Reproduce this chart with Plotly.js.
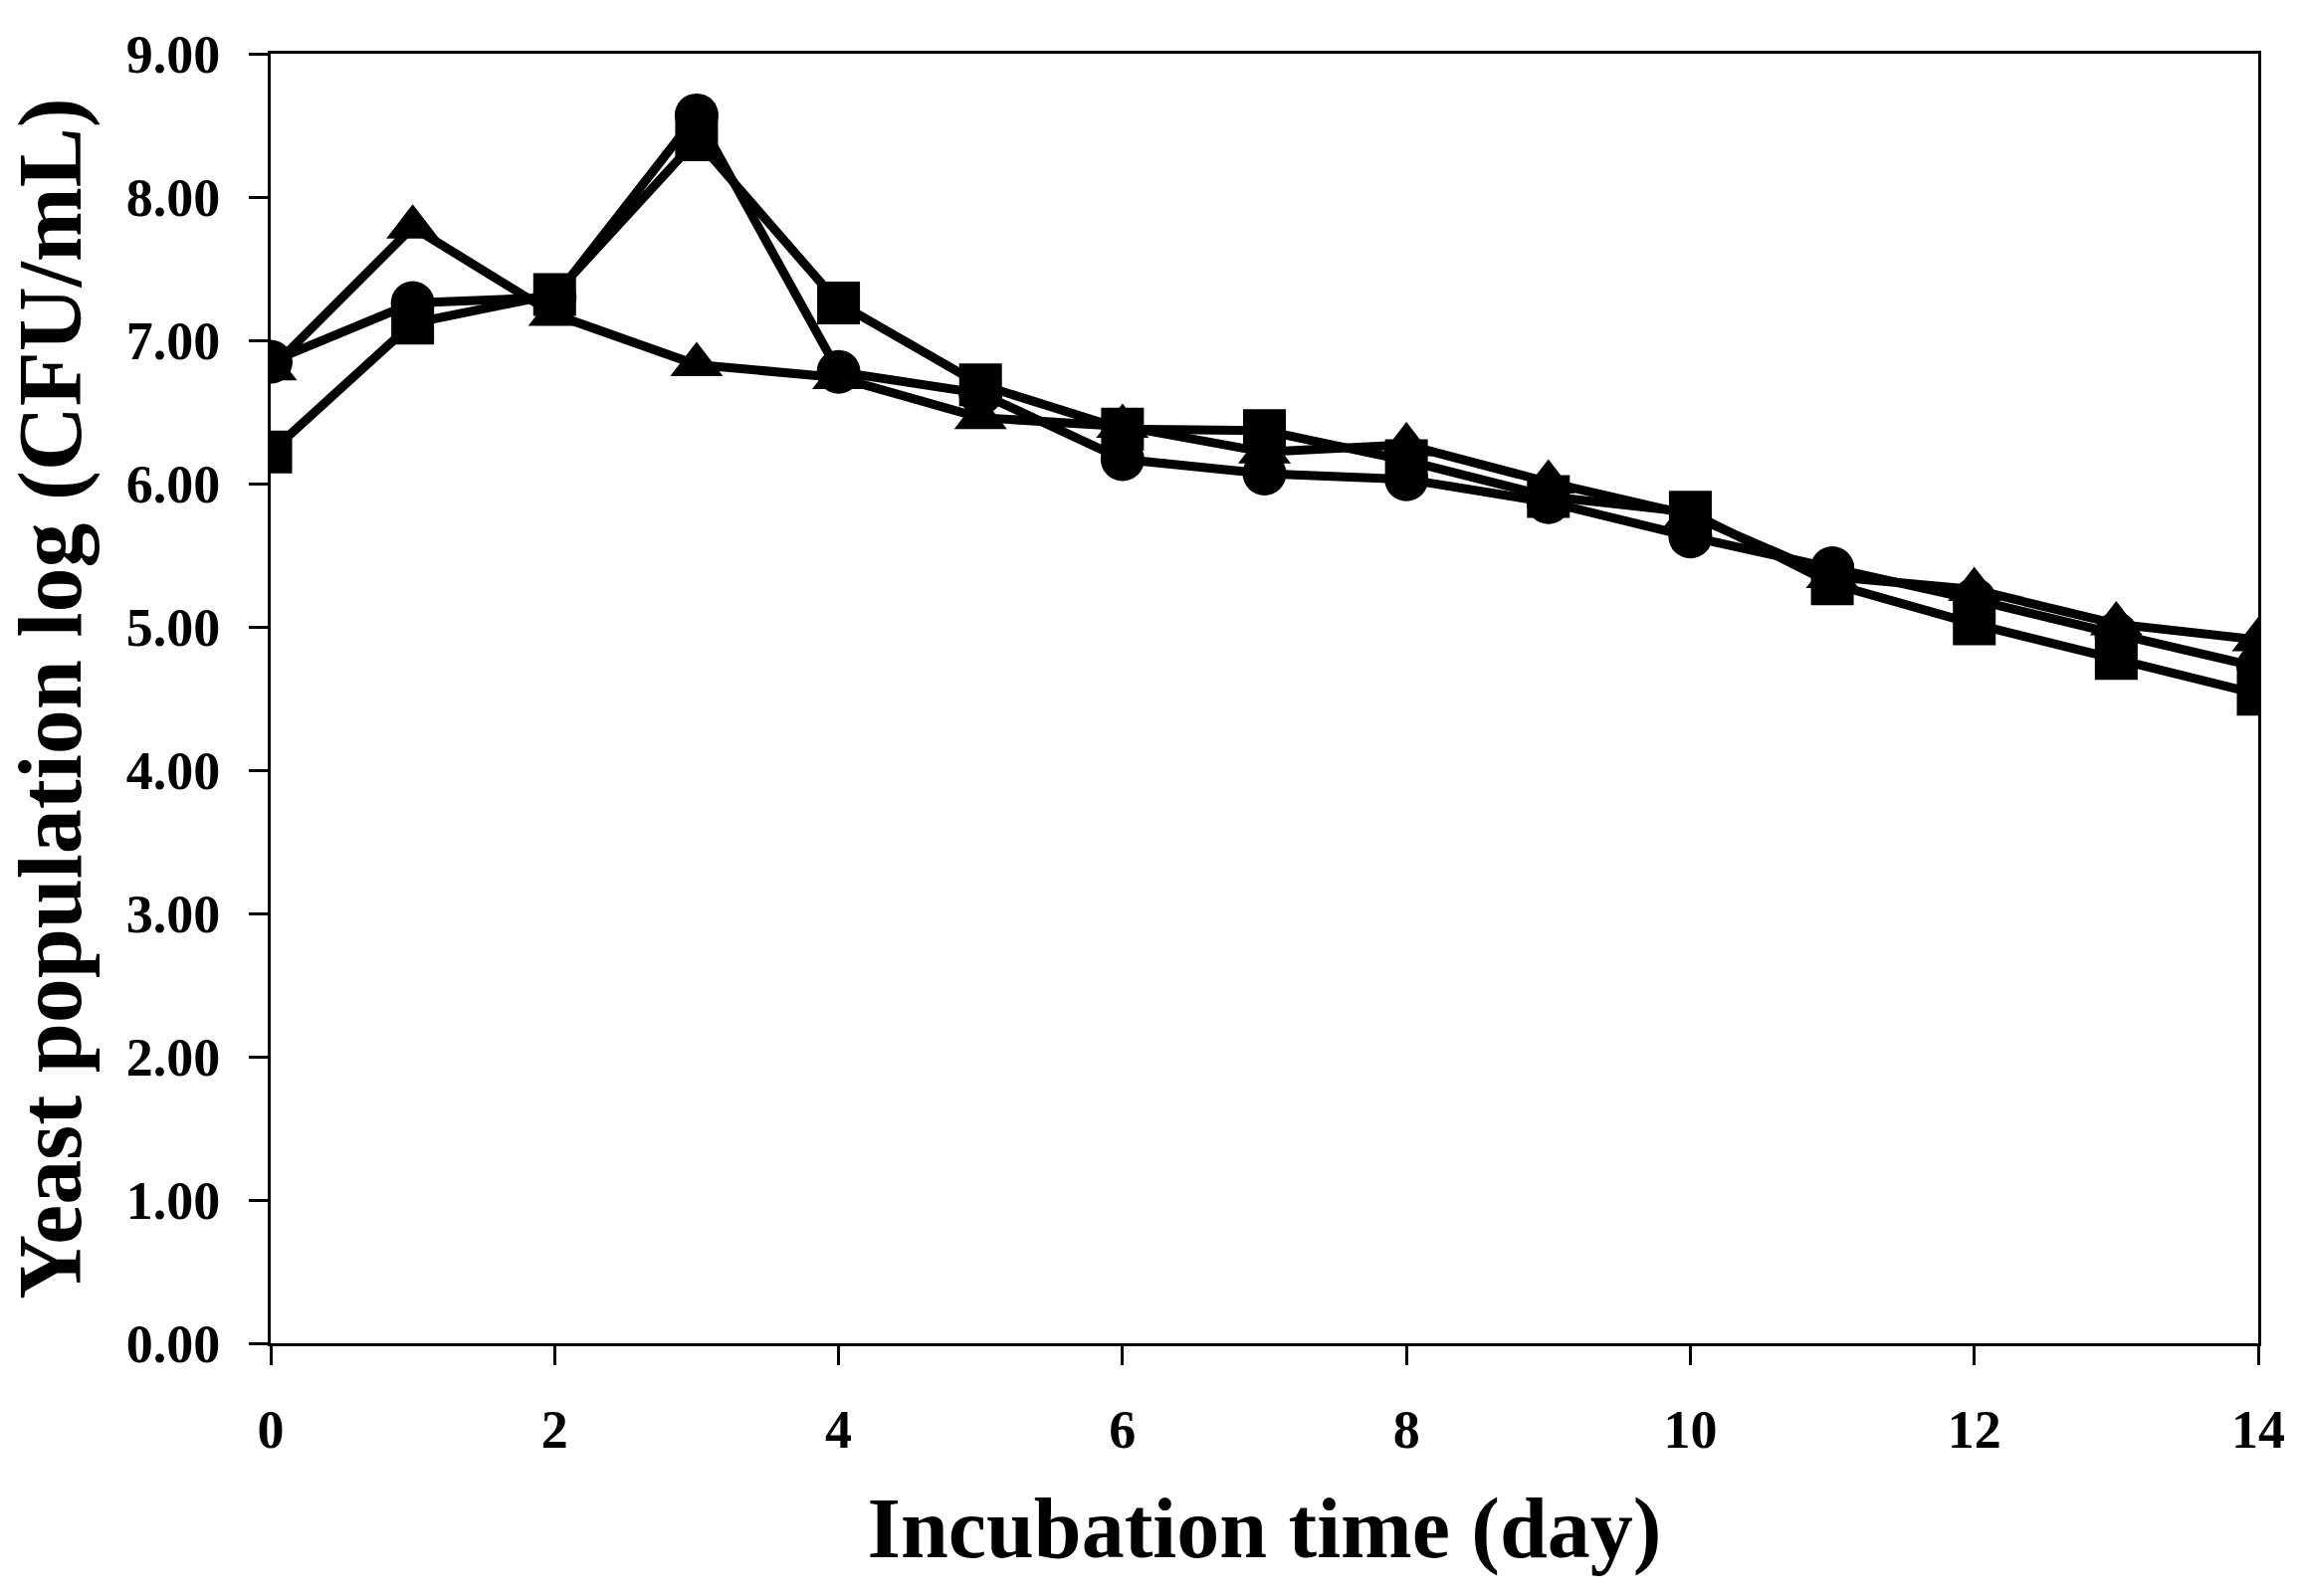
<!DOCTYPE html>
<html>
<head>
<meta charset="utf-8">
<script src="https://cdn.plot.ly/plotly-3.0.1.min.js"></script>
<style>
  html, body { margin: 0; padding: 0; background: #ffffff; }
  #chart { width: 2314px; height: 1604px; }
</style>
</head>
<body>
<div id="chart"></div>
<script>
// Incubation time (day)
const days = [0, 1, 2, 3, 4, 5, 6, 7, 8, 9, 10, 11, 12, 13, 14];
// Yeast population log (CFU/mL) per series
const circleSeries   = [6.85, 7.26, 7.30, 8.57, 6.78, 6.63, 6.17, 6.07, 6.03, 5.87, 5.63, 5.41, 5.19, 4.95, 4.72];
const triangleSeries = [6.80, 7.79, 7.18, 6.83, 6.74, 6.46, 6.40, 6.22, 6.27, 6.01, 5.78, 5.35, 5.26, 5.02, 4.91];
const squareSeries   = [6.22, 7.12, 7.32, 8.40, 7.26, 6.69, 6.38, 6.37, 6.16, 5.91, 5.80, 5.30, 5.02, 4.78, 4.53];
const yTickVals = [0, 1, 2, 3, 4, 5, 6, 7, 8, 9];
const yTickText = ["0.00", "1.00", "2.00", "3.00", "4.00", "5.00", "6.00", "7.00", "8.00", "9.00"];
const xTickVals = [0, 2, 4, 6, 8, 10, 12, 14];

const FONT = "Liberation Serif, Times New Roman, serif";

function series(y, symbol, size) {
  return {
    x: days, y: y, type: "scatter", mode: "lines+markers",
    line: { color: "#000000", width: 9 },
    marker: { symbol: symbol, size: size, color: "#000000", line: { width: 0 } },
    showlegend: false, hoverinfo: "skip"
  };
}

const data = [
  series(triangleSeries, "triangle-up", 46),
  series(circleSeries, "circle", 44),
  series(squareSeries, "square", 43)
];

const axisCommon = {
  showgrid: false, zeroline: false,
  showline: true, linecolor: "#000000", linewidth: 3, mirror: true,
  ticks: "outside", ticklen: 19, tickwidth: 3, tickcolor: "#000000",
  tickfont: { family: FONT, size: 54, color: "#000000", weight: "bold" }
};

const layout = {
  width: 2314, height: 1604,
  margin: { l: 272, r: 45, t: 54, b: 254 },
  paper_bgcolor: "#ffffff", plot_bgcolor: "#ffffff",
  font: { family: FONT, color: "#000000" },
  xaxis: Object.assign({}, axisCommon, {
    range: [0, 14], tickmode: "array", tickvals: xTickVals,
    ticklabelstandoff: 18,
    title: { text: "<b>Incubation time (day)</b>", font: { family: FONT, size: 86, color: "#000000" }, standoff: 40 }
  }),
  yaxis: Object.assign({}, axisCommon, {
    range: [0, 9], tickmode: "array", tickvals: yTickVals, ticktext: yTickText,
    ticklabelstandoff: 18,
    title: { text: "<b>Yeast population log (CFU/mL)</b>", font: { family: FONT, size: 90, color: "#000000" }, standoff: 16 }
  })
};

Plotly.newPlot("chart", data, layout, { staticPlot: true, displayModeBar: false });
</script>
</body>
</html>
